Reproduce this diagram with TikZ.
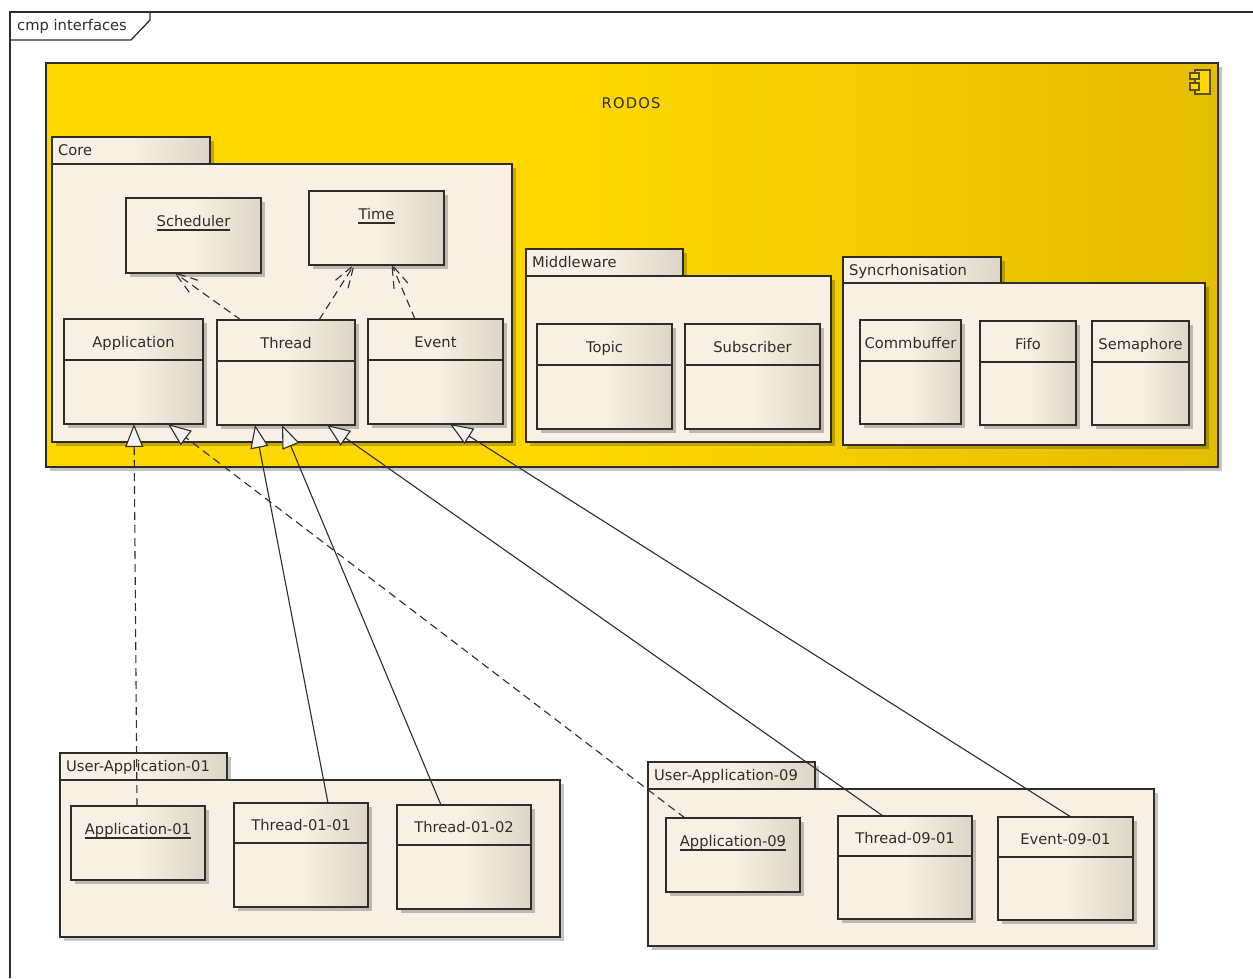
\documentclass[tikz,border=0pt]{standalone}
\usepackage{fontspec}
\setmainfont{DejaVu Sans}
\usetikzlibrary{arrows.meta,shadows,calc}
\definecolor{cream}{HTML}{F8F0E4}
\definecolor{creamdark}{HTML}{DCD5C8}
\definecolor{ink}{HTML}{302C28}
\definecolor{gold}{HTML}{FFD800}
\definecolor{golddark}{HTML}{E3BD00}
\pgfdeclarehorizontalshading{eashade}{100bp}{color(0bp)=(cream); color(50bp)=(cream); color(75bp)=(creamdark); color(100bp)=(creamdark)}
\pgfdeclarehorizontalshading{goldshade}{100bp}{color(0bp)=(gold); color(48bp)=(gold); color(75bp)=(golddark); color(100bp)=(golddark)}
\tikzset{
  x=1pt,y=-1pt,
  softshadow/.style={general shadow={shadow xshift=4pt,shadow yshift=-4pt,fill=black,fill opacity=.23}},
  boxbase/.style={rectangle,draw=ink,line width=1.3pt,inner sep=0pt,outer sep=0pt,softshadow},
  elemshape/.style={boxbase,shading=eashade},
  pkgbody/.style={boxbase,fill=cream},
  pkgtab/.style={boxbase,shading=eashade},
  compshape/.style={boxbase,shading=goldshade},
  lbl/.style={inner sep=0pt,font=\fontsize{14.7}{16}\selectfont,text=ink,anchor=base},
  lbll/.style={lbl,anchor=base west},
  sepline/.style={draw=ink,line width=1.2pt},
  ulline/.style={draw=ink,line width=1.2pt},
  real/.style={draw=ink,line width=1.1pt,-{Triangle[open,fill=white!90!gray,length=23pt,width=18pt,line width=1.1pt]}},
  realdash/.style={real,dash pattern=on 8pt off 5pt},
  dep/.style={draw=ink,line width=1.1pt,dash pattern=on 8pt off 5pt},
  framepart/.style={draw=ink,line width=1.3pt},
  icon/.style={draw=ink!80!gold,line width=1.3pt,fill=gold},
}
% box: name, x1,y1,x2,y2, style
\newcommand{\mybox}[6]{\node[#6,minimum width={(#4-#2)*1pt},minimum height={(#5-#3)*1pt}] (#1) at ({(#2+#4)/2},{(#3+#5)/2}) {};}
% class with compartment: name,x1,y1,x2,y2,sep offset,text
\newcommand{\myclass}[7]{\mybox{#1}{#2}{#3}{#4}{#5}{elemshape}
  \draw[sepline] ([yshift=-#6 pt]#1.north west) -- ([yshift=-#6 pt]#1.north east);
  \node[lbl] (#1L) at ([yshift=-#6 pt+13pt]#1.north) {#7};}
% instance, underlined name
\newcommand{\myobj}[7]{\mybox{#1}{#2}{#3}{#4}{#5}{elemshape}
  \node[lbl] (#1L) at ([yshift=-#6 pt]#1.north) {#7};
  \draw[ulline] ([yshift=-4pt]#1L.base west) -- ([yshift=-4pt]#1L.base east);}
% package: name,x1,y1,tabx2,y2(tab bottom),x2,y3,text
\newcommand{\mypkg}[8]{\mybox{#1Tab}{#2}{#3}{#4}{#5}{pkgtab}
  \mybox{#1}{#2}{#5}{#6}{#7}{pkgbody}
  \node[lbll] (#1L) at ([xshift=6pt,yshift=-18pt]#1Tab.north west) {#8};}
\newcommand{\mydep}[2]{\draw[dep] (#1) -- (#2);
  \draw[dep] ($(#2)!24pt!18:(#1)$) -- (#2);
  \draw[dep] ($(#2)!24pt!-18:(#1)$) -- (#2);}
\begin{document}
\begin{tikzpicture}
\useasboundingbox (0,0) rectangle (1253,978);
\fill[white] (0,0) rectangle (1253,978);
% frame
\coordinate (fTL) at (10,12);
\coordinate (fTR) at (1253,12);
\coordinate (fBL) at (10,978);
\draw[framepart] (fTR) -- (fTL) -- (fBL);
\draw[framepart] (10,40) -- (131,40) -- (150,20) -- (150,12);
\node[lbll] (frameL) at (17,30) {cmp interfaces};
% component
\mybox{rodos}{46}{63}{1218}{467}{compshape}
\node[lbl] (rodosL) at (631,108) {R\kern1.2pt O\kern1.2pt D\kern1.2pt O\kern1.2pt S};
\draw[icon] (1195,70) rectangle (1210,94);
\draw[icon] (1190,73) rectangle (1199,79);
\draw[icon] (1190,83) rectangle (1199,90);
% Core
\mypkg{core}{52}{137}{210}{164}{512}{442}{Core}
\myobj{scheduler}{126}{198}{261}{273}{28}{Scheduler}
\myobj{time}{309}{191}{444}{265}{28}{Time}
\myclass{application}{64}{319}{203}{424}{41}{Application}
\myclass{thread}{217}{320}{355}{425}{41}{Thread}
\myclass{event}{368}{319}{503}{424}{41}{Event}
% Middleware
\mypkg{mw}{526}{249}{683}{276}{831}{442}{Middleware}
\myclass{topic}{537}{324}{672}{429}{41}{Topic}
\myclass{subscriber}{685}{324}{820}{429}{41}{Subscriber}
% Synchronisation
\mypkg{sync}{843}{257}{1001}{283}{1205}{445}{Syncrhonisation}
\myclass{commbuffer}{860}{320}{961}{424}{41}{Commbuffer}
\myclass{fifo}{980}{321}{1076}{425}{41}{Fifo}
\myclass{semaphore}{1092}{321}{1189}{425}{41}{Semaphore}
% User apps
\mypkg{uaa}{60}{753}{227}{780}{560}{937}{User-Application-01}
\myobj{appa}{71}{806}{205}{880}{28}{Application-01}
\myclass{thra}{234}{803}{368}{907}{40}{Thread-01-01}
\myclass{thrb}{397}{805}{531}{909}{40}{Thread-01-02}
\mypkg{uab}{648}{762}{815}{789}{1154}{946}{User-Application-09}
\myobj{appb}{666}{818}{800}{892}{28}{Application-09}
\myclass{thrc}{838}{816}{972}{919}{40}{Thread-09-01}
\myclass{evta}{998}{817}{1133}{920}{40}{Event-09-01}
% dependencies
\coordinate (d1a) at ([xshift=24pt]thread.north west);
\coordinate (d1b) at ([xshift=49pt]scheduler.south west);
\mydep{d1a}{d1b}
\coordinate (d2a) at ([xshift=102pt]thread.north west);
\coordinate (d2b) at ([xshift=45pt]time.south west);
\mydep{d2a}{d2b}
\coordinate (d3a) at ([xshift=47pt]event.north west);
\coordinate (d3b) at ([xshift=83pt]time.south west);
\mydep{d3a}{d3b}
% realizations
\draw[realdash] ([xshift=66pt]appa.north west) -- ([xshift=70pt]application.south west);
\draw[realdash] ([xshift=19pt]appb.north west) -- ([xshift=104pt]application.south west);
\draw[real] ([xshift=94pt]thra.north west) -- ([xshift=38pt]thread.south west);
\draw[real] ([xshift=44pt]thrb.north west) -- ([xshift=65pt]thread.south west);
\draw[real] ([xshift=45pt]thrc.north west) -- ([xshift=110pt]thread.south west);
\draw[real] ([xshift=73pt]evta.north west) -- ([xshift=82pt]event.south west);
\end{tikzpicture}
\end{document}
